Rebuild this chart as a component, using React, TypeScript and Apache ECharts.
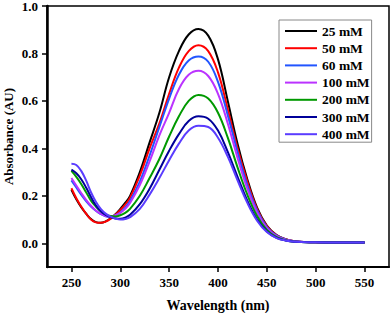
import React, { useEffect, useRef } from "react";
import * as echarts from "echarts";

const wavelengths = [250, 255, 260, 265, 270, 275, 280, 285, 290, 295, 300, 305, 310, 320, 330, 340, 350, 360, 370, 380, 390, 400, 410, 420, 430, 440, 450, 460, 470, 480, 490, 500, 525, 550];

const seriesNames = ["25 mM", "50 mM", "60 mM", "100 mM", "200 mM", "300 mM", "400 mM"];
const seriesColors = ["#000000", "#ff0000", "#2255ff", "#bb33ff", "#009900", "#000099", "#5a3cff"];

const abs25 = [0.225, 0.185, 0.152, 0.125, 0.102, 0.089, 0.086, 0.092, 0.105, 0.122, 0.145, 0.17, 0.2, 0.3, 0.425, 0.55, 0.7, 0.81, 0.88, 0.903, 0.875, 0.775, 0.6, 0.42, 0.27, 0.15, 0.075, 0.035, 0.016, 0.008, 0.005, 0.004, 0.003, 0.003];
const abs50 = [0.232, 0.19, 0.155, 0.125, 0.1, 0.088, 0.086, 0.091, 0.103, 0.12, 0.14, 0.163, 0.192, 0.285, 0.4, 0.505, 0.63, 0.74, 0.81, 0.835, 0.81, 0.72, 0.565, 0.4, 0.26, 0.145, 0.072, 0.034, 0.016, 0.008, 0.005, 0.004, 0.003, 0.003];
const abs60 = [0.265, 0.235, 0.205, 0.178, 0.155, 0.137, 0.123, 0.114, 0.112, 0.118, 0.13, 0.15, 0.178, 0.26, 0.37, 0.49, 0.61, 0.71, 0.77, 0.787, 0.765, 0.68, 0.54, 0.385, 0.245, 0.138, 0.068, 0.032, 0.015, 0.008, 0.005, 0.004, 0.003, 0.003];
const abs100 = [0.275, 0.243, 0.212, 0.183, 0.158, 0.138, 0.124, 0.115, 0.113, 0.118, 0.128, 0.145, 0.17, 0.245, 0.345, 0.455, 0.55, 0.65, 0.71, 0.727, 0.705, 0.63, 0.505, 0.36, 0.23, 0.13, 0.064, 0.03, 0.014, 0.007, 0.005, 0.004, 0.003, 0.003];
const abs200 = [0.305, 0.28, 0.25, 0.215, 0.18, 0.155, 0.135, 0.122, 0.115, 0.113, 0.118, 0.128, 0.145, 0.2, 0.275, 0.355, 0.45, 0.535, 0.6, 0.625, 0.61, 0.55, 0.445, 0.32, 0.205, 0.115, 0.056, 0.026, 0.012, 0.006, 0.004, 0.004, 0.003, 0.003];
const abs300 = [0.31, 0.295, 0.27, 0.235, 0.195, 0.16, 0.135, 0.12, 0.11, 0.104, 0.103, 0.108, 0.12, 0.165, 0.23, 0.31, 0.39, 0.46, 0.515, 0.535, 0.525, 0.475, 0.385, 0.28, 0.18, 0.1, 0.05, 0.023, 0.011, 0.006, 0.004, 0.004, 0.003, 0.003];
const abs400 = [0.335, 0.33, 0.305, 0.265, 0.215, 0.175, 0.145, 0.125, 0.112, 0.104, 0.1, 0.102, 0.11, 0.145, 0.205, 0.275, 0.35, 0.42, 0.475, 0.495, 0.49, 0.445, 0.365, 0.265, 0.17, 0.095, 0.047, 0.022, 0.011, 0.006, 0.004, 0.004, 0.003, 0.003];

const allValues = [abs25, abs50, abs60, abs100, abs200, abs300, abs400];

const FONT = "'Liberation Serif', 'Times New Roman', serif";

export default function App() {
  const ref = useRef<HTMLDivElement>(null);
  useEffect(() => {
    if (!ref.current) return;
    const chart = echarts.init(ref.current, null, { renderer: "svg" });
    const series = seriesNames.map((name, i) => ({
      name,
      type: "line",
      symbol: "none",
      smooth: 0.4,
      data: wavelengths.map((w, j) => [w, allValues[i][j]]),
      lineStyle: { color: seriesColors[i], width: 2 },
      itemStyle: { color: seriesColors[i] },
    }));
    chart.setOption({
      animation: false,
      backgroundColor: "#ffffff",
      grid: {
        left: 47,
        top: 6,
        right: 3,
        bottom: 46,
        containLabel: false,
        outerBoundsMode: "none",
        show: true,
        borderColor: "#000",
        borderWidth: 1.5,
        backgroundColor: "transparent",
      },
      legend: {
        orient: "vertical",
        left: 279,
        top: 20,
        itemWidth: 32,
        itemHeight: 13,
        itemGap: 3.2,
        padding: [4, 2, 1, 5],
        borderColor: "#888",
        borderWidth: 1,
        backgroundColor: "#fff",
        data: seriesNames,
        itemStyle: { opacity: 0 },
        lineStyle: { width: 2 },
        textStyle: { fontFamily: FONT, fontWeight: "bold", fontSize: 13.5, color: "#000" },
      },
      xAxis: {
        type: "value",
        min: 225,
        max: 575,
        splitNumber: 7,
        name: "Wavelength (nm)",
        nameLocation: "middle",
        nameGap: 31,
        nameMoveOverlap: false,
        nameTextStyle: { fontFamily: FONT, fontWeight: "bold", fontSize: 14, color: "#000" },
        axisLine: { show: true, onZero: false, lineStyle: { color: "#000", width: 2 } },
        axisTick: { show: true, inside: false, length: 5, lineStyle: { color: "#000", width: 1.5 } },
        axisLabel: {
          margin: 9,
          fontFamily: FONT,
          fontWeight: "bold",
          fontSize: 13,
          color: "#000",
          showMinLabel: false,
          showMaxLabel: false,
          formatter: (v: number) => (v % 50 === 0 && v >= 250 && v <= 550 ? String(v) : ""),
        },
        splitLine: { show: false },
      },
      yAxis: {
        type: "value",
        min: -0.1,
        max: 1.0,
        splitNumber: 5,
        name: "Absorbance (AU)",
        nameLocation: "middle",
        nameGap: 32,
        nameMoveOverlap: false,
        nameTextStyle: { fontFamily: FONT, fontWeight: "bold", fontSize: 13, color: "#000" },
        axisLine: { show: true, onZero: false, lineStyle: { color: "#000", width: 2.5 } },
        axisTick: { show: true, inside: false, length: 5, lineStyle: { color: "#000", width: 1.5 } },
        axisLabel: {
          margin: 9,
          fontFamily: FONT,
          fontWeight: "bold",
          fontSize: 13,
          color: "#000",
          showMinLabel: false,
          formatter: (v: number) => v.toFixed(1),
        },
        splitLine: { show: false },
      },
      series,
    });
    return () => chart.dispose();
  }, []);
  return (
    <div
      ref={ref}
      style={{ position: "fixed", left: 0, top: 0, width: 392, height: 313, background: "#fff" }}
    />
  );
}
